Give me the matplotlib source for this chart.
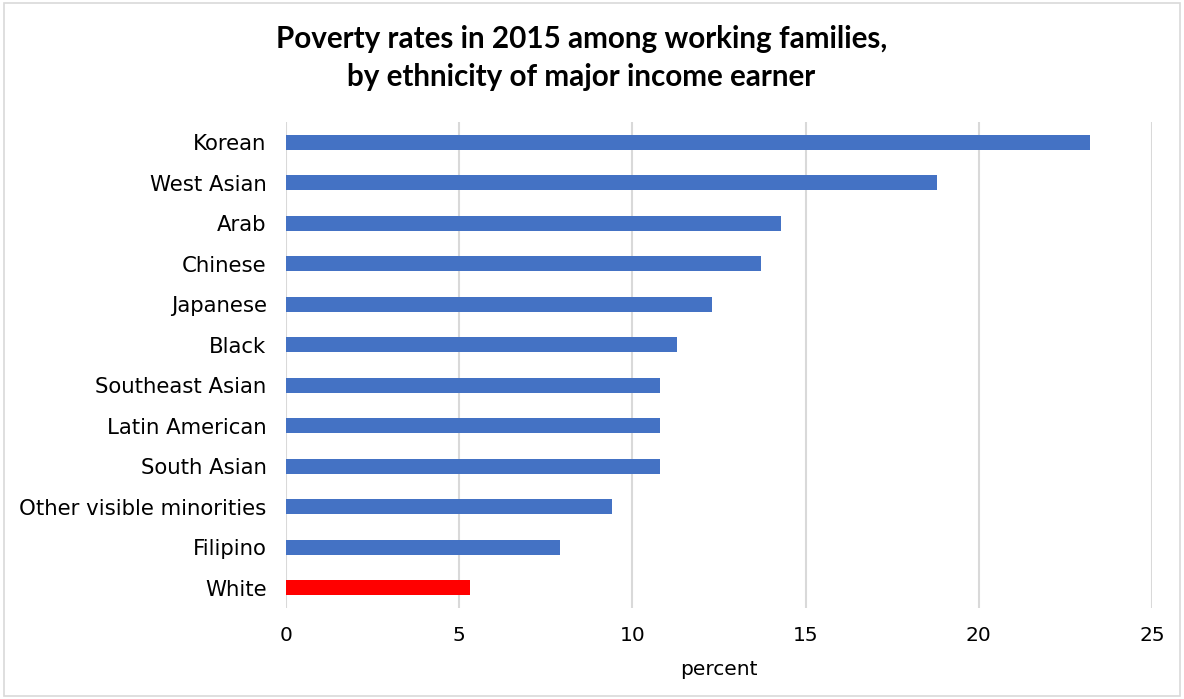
import matplotlib.pyplot as plt
from matplotlib.patches import Rectangle

# Poverty rates (%) among working families, 2015
groups = ["Korean", "West Asian", "Arab", "Chinese", "Japanese", "Black",
          "Southeast Asian", "Latin American", "South Asian",
          "Other visible minorities", "Filipino", "White"]
rates = [23.2, 18.8, 14.3, 13.7, 12.3, 11.3, 10.8, 10.8, 10.8, 9.4, 7.9, 5.3]
bar_colors = ["#4472C4"] * 11 + ["#FF0000"]
xticks = [0, 5, 10, 15, 20, 25]

plt.rcParams["font.family"] = "DejaVu Sans"

fig = plt.figure(figsize=(11.84, 6.99), dpi=100)
ax = fig.add_axes([0.2416, 0.1302, 0.7314, 0.6953])

ypos = list(range(len(groups)))
ax.barh(ypos, rates, height=0.37, color=bar_colors, zorder=3)

ax.set_ylim(len(groups) - 0.5, -0.5)
ax.set_xlim(0, 25)
ax.set_xticks(xticks)
ax.set_yticks(ypos)
ax.set_yticklabels(groups, fontsize=15.3, color="#000000")
ax.tick_params(axis="x", labelsize=14.5, pad=13, length=0)
ax.tick_params(axis="y", length=0, pad=14)
ax.xaxis.grid(True, color="#d9d9d9", linewidth=1.5, zorder=0)
for s in ax.spines.values():
    s.set_visible(False)

ax.set_xlabel("percent", fontsize=14.5, labelpad=11)

fig.text(0.491, 0.917, "Poverty rates in 2015 among working families,\nby ethnicity of major income earner",
         ha="center", va="center", fontsize=21.3, fontweight="bold",
         family="Lato", linespacing=1.4)

# thin frame around the whole chart
fig.patches.append(Rectangle((0.003, 0.004), 0.994, 0.991, transform=fig.transFigure,
                             fill=False, edgecolor="#d9d9d9", linewidth=1.2))

fig.savefig("out.png", dpi=100)
